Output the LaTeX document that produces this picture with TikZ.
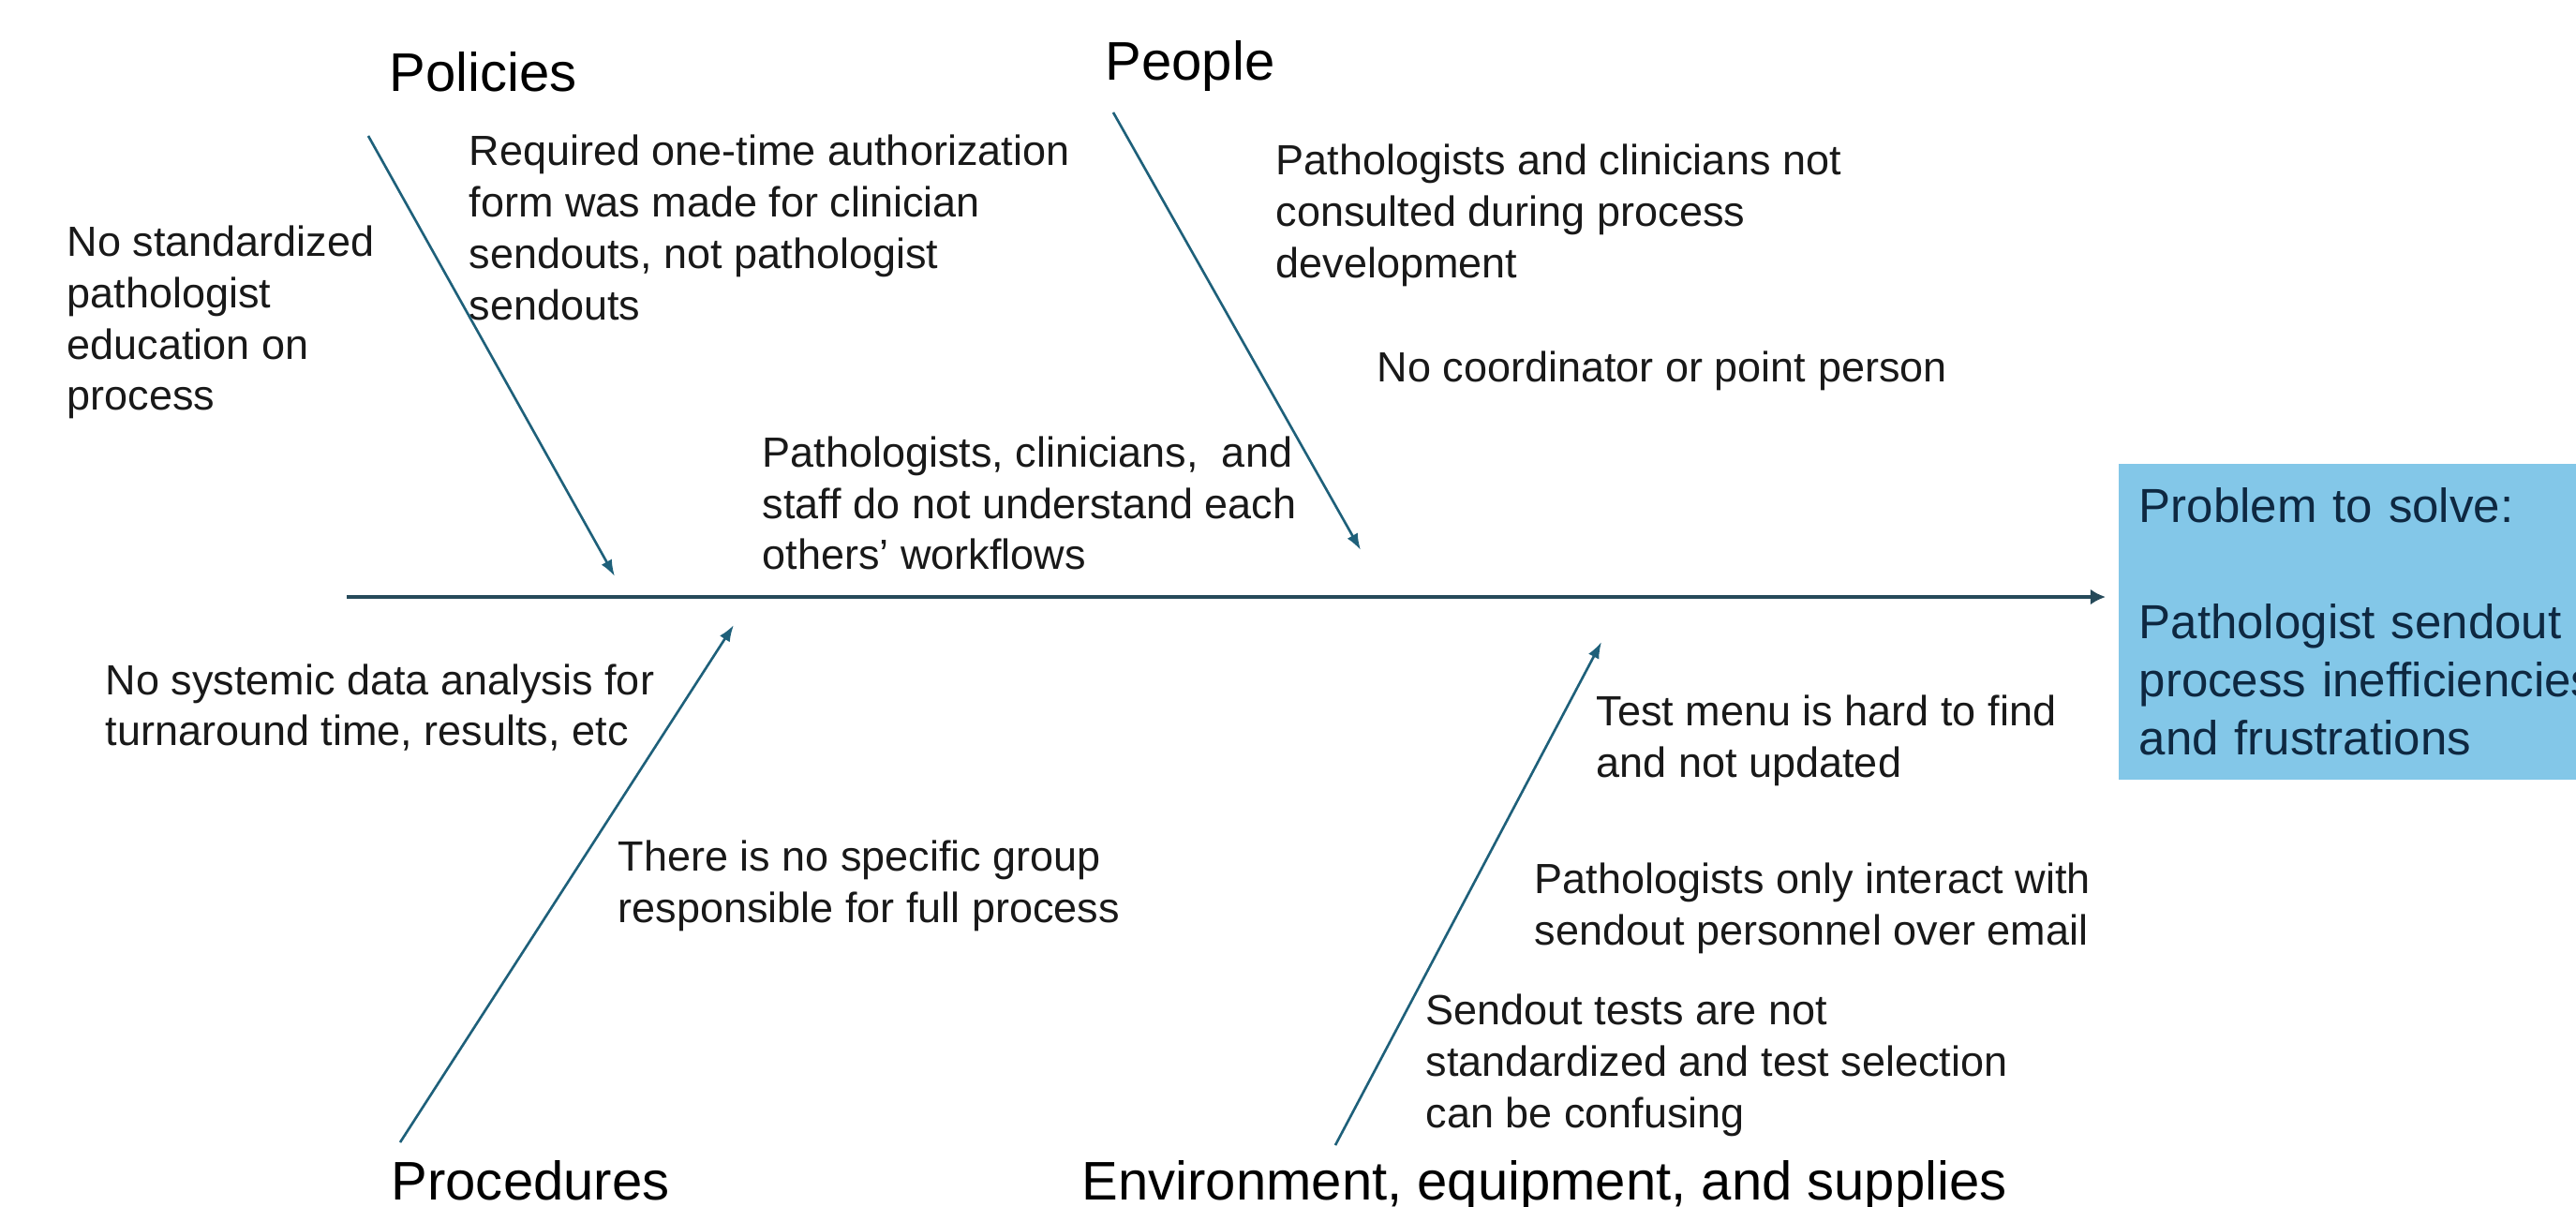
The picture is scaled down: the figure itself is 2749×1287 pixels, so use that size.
\documentclass[tikz,border=0pt]{standalone}
\usepackage{fontspec}
\setmainfont{Liberation Sans}
\usetikzlibrary{arrows.meta}

\definecolor{spinecol}{RGB}{38,74,90}
\definecolor{bonecol}{RGB}{30,96,122}
\definecolor{probfill}{RGB}{131,199,232}
\definecolor{probtext}{RGB}{14,40,65}
\definecolor{causetext}{RGB}{25,25,25}

\begin{document}
\begin{tikzpicture}[x=0.01cm,y=-0.01cm]

      \useasboundingbox (0,0) rectangle (2749,1287);
      \clip (0,0) rectangle (2749,1287);

      \begin{scope}[every node/.style={anchor=base west,inner sep=0pt,font=\fontsize{16.5}{20}\selectfont}]
        \node (policies)    at (415,97)    {Policies};
        \node (people)      at (1179,85)   {People};
        \node (procedures)  at (417,1280)  {Procedures};
        \node (environment) at (1154,1280) {Environment, equipment, and supplies};
      \end{scope}

      \begin{scope}[every node/.style={anchor=west,align=left,inner sep=0pt,text=causetext,
          font=\fontsize{12.8}{15.6}\selectfont}]
        \node (educ)    at (71,344)   {No standardized\\pathologist\\education on\\process};
        \node (auth)    at (500,243)  {Required one-time authorization\\form was made for clinician\\sendouts, not pathologist\\sendouts};
        \node (flows)   at (813,537)  {Pathologists, clinicians,\ \ and\\staff do not understand each\\others’ workflows};
        \node (consult) at (1361,230) {Pathologists and clinicians not\\consulted during process\\development};
        \node (coord)   at (1469,396) {No coordinator or point person};
        \node (data)    at (112,755)  {No systemic data analysis for\\turnaround time, results, etc};
        \node (group)   at (659,945)  {There is no specific group\\responsible for full process};
        \node (menu)    at (1703,790) {Test menu is hard to find\\and not updated};
        \node (email)   at (1637,969) {Pathologists only interact with\\sendout personnel over email};
        \node (tests)   at (1521,1137) {Sendout tests are not\\standardized and test selection\\can be confusing};
      \end{scope}

      \node[anchor=north west,fill=probfill,text=probtext,align=left,text width=5.6cm,
        minimum height=3.37cm,inner xsep=0.22cm,inner ysep=0pt,
        font=\fontsize{14.5}{17.6}\selectfont] (problem) at (2260,494)
        {Problem to solve:\\[17.6pt]Pathologist sendout\\process inefficiencies\\and frustrations};

      \coordinate (tail) at (370,637);
      \coordinate (head) at (2247,637);
      \coordinate (pol-s)  at (393,145);
      \coordinate (pol-e)  at (656,615);
      \coordinate (peo-s)  at (1188,120);
      \coordinate (peo-e)  at (1452,587);
      \coordinate (proc-s) at (427,1219);
      \coordinate (proc-e) at (783,667);
      \coordinate (env-s)  at (1425,1222);
      \coordinate (env-e)  at (1709,685);

      \draw[spinecol,line width=1.3pt,-{Latex[length=4.6pt,width=4.8pt]}] (tail) -- (head);

      \begin{scope}[every edge/.style={draw=bonecol,line width=0.75pt,-{Latex[length=5pt,width=3.6pt]}}]
        \path (pol-s)  edge (pol-e);
        \path (peo-s)  edge (peo-e);
        \path (proc-s) edge (proc-e);
        \path (env-s)  edge (env-e);
      \end{scope}

    \end{tikzpicture}
\end{document}
